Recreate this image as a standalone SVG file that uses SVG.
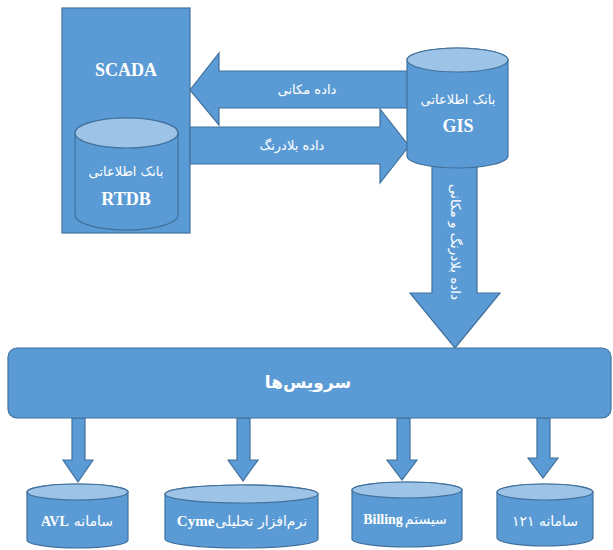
<svg xmlns="http://www.w3.org/2000/svg" width="613" height="550" viewBox="0 0 613 550">
<style>
.shape{fill:#5B9BD5;stroke:#41719C;stroke-width:1.2}
.top{fill:#9DC3E6;stroke:#41719C;stroke-width:1.2}
.lat{font-family:"Liberation Serif",serif;font-weight:bold;fill:#fff}
.fa{font-family:"DejaVu Sans","Noto Sans",sans-serif;fill:#fff}
</style>
<rect width="613" height="550" fill="#fff"/>
<g id="scada">
<rect class="shape" x="62" y="8" width="128" height="225"/>
<text class="lat" x="126" y="76" font-size="18" text-anchor="middle">SCADA</text>
</g>
<g id="rtdb">
<path class="shape" d="M75 133 A51.5 15 0 0 1 178 133 V215 A51.5 15 0 0 1 75 215 Z"/>
<ellipse class="top" cx="126.5" cy="133" rx="51.5" ry="15"/>
<text class="fa" x="126" y="176" font-size="13" text-anchor="middle">بانک اطلاعاتی</text>
<text class="lat" x="126" y="205" font-size="18" text-anchor="middle">RTDB</text>
</g>
<g id="connectors">
<path class="shape" d="M410 71 H219 V53 L190 90 L219 125 V108 H410 Z"/>
<path class="shape" d="M190 127 H380 V109 L409 146 L380 183 V164 H190 Z"/>
<path class="shape" d="M432 166 H477 V293 H500 L455 348 L410 293 H432 Z"/>
<path class="shape" d="M72 418 H85 V460 H93 L78 482 L63 460 H72 Z"/>
<path class="shape" d="M237 418 H250 V460 H258 L243 481 L228 460 H237 Z"/>
<path class="shape" d="M397 418 H410 V460 H417 L402 480 L387 460 H397 Z"/>
<path class="shape" d="M537 418 H550 V458 H558 L543 478 L528 458 H537 Z"/>
<text class="fa" x="307" y="94" font-size="13" text-anchor="middle">داده مکانی</text>
<text class="fa" x="292" y="150" font-size="13" text-anchor="middle">داده بلادرنگ</text>
<text class="fa" font-size="13.5" text-anchor="middle" transform="translate(451 242) rotate(90)">داده بلادرنگ و مکانی</text>
</g>
<g id="gis">
<path class="shape" d="M407 60 A50.5 12 0 0 1 508 60 V156 A50.5 12 0 0 1 407 156 Z"/>
<ellipse class="top" cx="457.5" cy="60" rx="50.5" ry="12"/>
<text class="fa" x="458" y="104" font-size="13" text-anchor="middle">بانک اطلاعاتی</text>
<text class="lat" x="458" y="132" font-size="18" text-anchor="middle">GIS</text>
</g>
<g id="services">
<rect class="shape" x="8" y="348" width="603" height="70" rx="9"/>
<text class="fa" x="308" y="388" font-size="17" font-weight="bold" text-anchor="middle">سرویس‌ها</text>
</g>
<g id="avl">
<path class="shape" d="M27 492 A50.5 8 0 0 1 128 492 V540 A50.5 8 0 0 1 27 540 Z"/>
<ellipse class="top" cx="77.5" cy="492" rx="50.5" ry="8"/>
<text x="77" y="526" font-size="14" text-anchor="middle"><tspan class="lat">AVL</tspan><tspan class="fa" dx="5">سامانه</tspan></text>
</g>
<g id="cyme">
<path class="shape" d="M165 494 A76.5 9 0 0 1 318 494 V539 A76.5 9 0 0 1 165 539 Z"/>
<ellipse class="top" cx="241.5" cy="494" rx="76.5" ry="9"/>
<text x="242" y="526" font-size="14" text-anchor="middle"><tspan class="lat" font-size="15">Cyme</tspan><tspan class="fa" dx="1">نرم‌افزار تحلیلی</tspan></text>
</g>
<g id="billing">
<path class="shape" d="M352 490 A55 8 0 0 1 462 490 V539 A55 8 0 0 1 352 539 Z"/>
<ellipse class="top" cx="407" cy="490" rx="55" ry="8"/>
<text x="405" y="524" font-size="14" text-anchor="middle"><tspan class="lat">Billing</tspan><tspan class="fa" dx="2">سیستم</tspan></text>
</g>
<g id="s121">
<path class="shape" d="M497 492 A48 8 0 0 1 593 492 V538 A48 8 0 0 1 497 538 Z"/>
<ellipse class="top" cx="545" cy="492" rx="48" ry="8"/>
<text class="fa" x="545" y="526" font-size="14" text-anchor="middle">۱۲۱ سامانه</text>
</g>
</svg>
